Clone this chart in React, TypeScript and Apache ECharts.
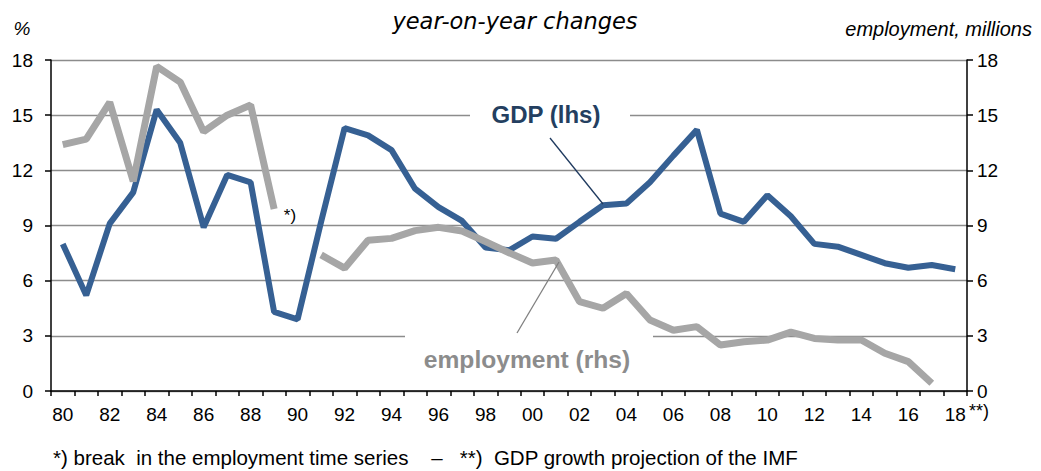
import React, { useEffect, useRef } from "react";
import * as echarts from "echarts";

const years = [
  "80", "81", "82", "83", "84", "85", "86", "87", "88", "89",
  "90", "91", "92", "93", "94", "95", "96", "97", "98", "99",
  "00", "01", "02", "03", "04", "05", "06", "07", "08", "09",
  "10", "11", "12", "13", "14", "15", "16", "17", "18",
];

const gdp = [
  8.0, 5.2, 9.1, 10.8, 15.3, 13.5, 8.9, 11.75, 11.35, 4.3,
  3.9, 9.2, 14.3, 13.9, 13.1, 11.0, 10.0, 9.25, 7.8, 7.65,
  8.4, 8.28, 9.2, 10.1, 10.2, 11.35, 12.8, 14.2, 9.65, 9.2,
  10.65, 9.5, 8.0, 7.85, 7.4, 6.95, 6.7, 6.85, 6.62,
];

const employment = [
  13.4, 13.7, 15.7, 11.4, 17.65, 16.8, 14.1, 15.0, 15.55, 9.9,
  null, 7.4, 6.68, 8.2, 8.3, 8.72, 8.9, 8.7, 8.12, 7.52,
  6.96, 7.12, 4.86, 4.5, 5.3, 3.86, 3.3, 3.5, 2.5, 2.68,
  2.77, 3.2, 2.86, 2.77, 2.77, 2.05, 1.6, 0.42, null,
];

const yMin = 0;
const yMax = 18;
const yInterval = 3;

const title = "year-on-year changes";
const leftUnit = "%";
const rightUnit = "employment, millions";
const gdpLabel = "GDP (lhs)";
const empLabel = "employment (rhs)";
const breakNote = "*)";
const imfNote = "**)";
const footnote =
  "*) break  in the employment time series    \u2013   **)  GDP growth projection of the IMF";

const FONT = '"Liberation Sans", Arial, sans-serif';

function txt(text: string, x: number, y: number, font: string, fill: string, align: string, z = 5) {
  return {
    type: "text",
    x,
    y,
    z,
    style: {
      text,
      font,
      fill,
      align,
      textAlign: align,
      verticalAlign: "middle",
      textVerticalAlign: "middle",
    },
  };
}

export default function App() {
  const ref = useRef<HTMLDivElement>(null);

  useEffect(() => {
    if (!ref.current) return;
    const chart = echarts.init(ref.current, undefined, { renderer: "svg" });
    const axisLabelStyle = { color: "#000", fontSize: 19, fontFamily: FONT };
    chart.setOption({
      animation: false,
      backgroundColor: "#fff",
      grid: { left: 51, right: 74, top: 60, bottom: 80, containLabel: false },
      xAxis: {
        type: "category",
        data: years,
        boundaryGap: true,
        axisLine: { show: true, lineStyle: { color: "#000", width: 1.5 } },
        axisTick: { show: true, interval: 0, length: 5, lineStyle: { color: "#000", width: 1.5 } },
        axisLabel: { ...axisLabelStyle, interval: 1, margin: 14 },
        splitLine: { show: false },
      },
      yAxis: [
        {
          type: "value",
          position: "left",
          min: yMin,
          max: yMax,
          interval: yInterval,
          axisLine: { show: true, lineStyle: { color: "#000", width: 1.5 } },
          axisTick: { show: true, length: 6, lineStyle: { color: "#000", width: 1.5 } },
          axisLabel: { ...axisLabelStyle, margin: 18 },
          splitLine: { show: true, lineStyle: { color: "#8c8c8c", width: 1.3 } },
        },
        {
          type: "value",
          position: "right",
          min: yMin,
          max: yMax,
          interval: yInterval,
          axisLine: { show: true, lineStyle: { color: "#000", width: 1.5 } },
          axisTick: { show: true, length: 6, lineStyle: { color: "#000", width: 1.5 } },
          axisLabel: { ...axisLabelStyle, margin: 10 },
          splitLine: { show: false },
        },
      ],
      series: [
        {
          name: "GDP",
          type: "line",
          yAxisIndex: 0,
          data: gdp,
          showSymbol: false,
          symbol: "none",
          lineStyle: { color: "#366093", width: 6 },
          z: 3,
        },
        {
          name: "employment",
          type: "line",
          yAxisIndex: 1,
          data: employment,
          connectNulls: false,
          showSymbol: false,
          symbol: "none",
          lineStyle: { color: "#a6a6a6", width: 7 },
          z: 4,
        },
      ],
      graphic: [
        { type: "rect", z: 1, shape: { x: 470, y: 108, width: 160, height: 14 }, style: { fill: "#fff" } },
        { type: "rect", z: 1, shape: { x: 405, y: 329, width: 248, height: 12 }, style: { fill: "#fff" } },
        { type: "line", z: 5, shape: { x1: 550, y1: 138, x2: 603, y2: 204 }, style: { stroke: "#1f3a5f", lineWidth: 1.3 } },
        { type: "line", z: 5, shape: { x1: 517, y1: 333, x2: 559, y2: 262 }, style: { stroke: "#808080", lineWidth: 1.3 } },
        txt(title, 515, 21, 'italic 22.5px "DejaVu Sans", Verdana, sans-serif', "#000", "center"),
        txt(leftUnit, 22, 28, `italic 19px ${FONT}`, "#000", "center"),
        txt(rightUnit, 1032, 29, `italic 20px ${FONT}`, "#000", "right"),
        txt(gdpLabel, 546, 114, `bold 24px ${FONT}`, "#243f60", "center"),
        txt(empLabel, 527, 359, `bold 24.6px ${FONT}`, "#8c8c8c", "center"),
        txt(breakNote, 290, 215, `17px ${FONT}`, "#000", "center"),
        txt(imfNote, 969, 411, `18px ${FONT}`, "#000", "left"),
        txt(footnote, 53, 457, `20.5px ${FONT}`, "#000", "left"),
      ],
    });
    return () => chart.dispose();
  }, []);

  return (
    <div
      ref={ref}
      style={{ position: "fixed", left: 0, top: 0, width: 1041, height: 471, background: "#fff" }}
    />
  );
}
